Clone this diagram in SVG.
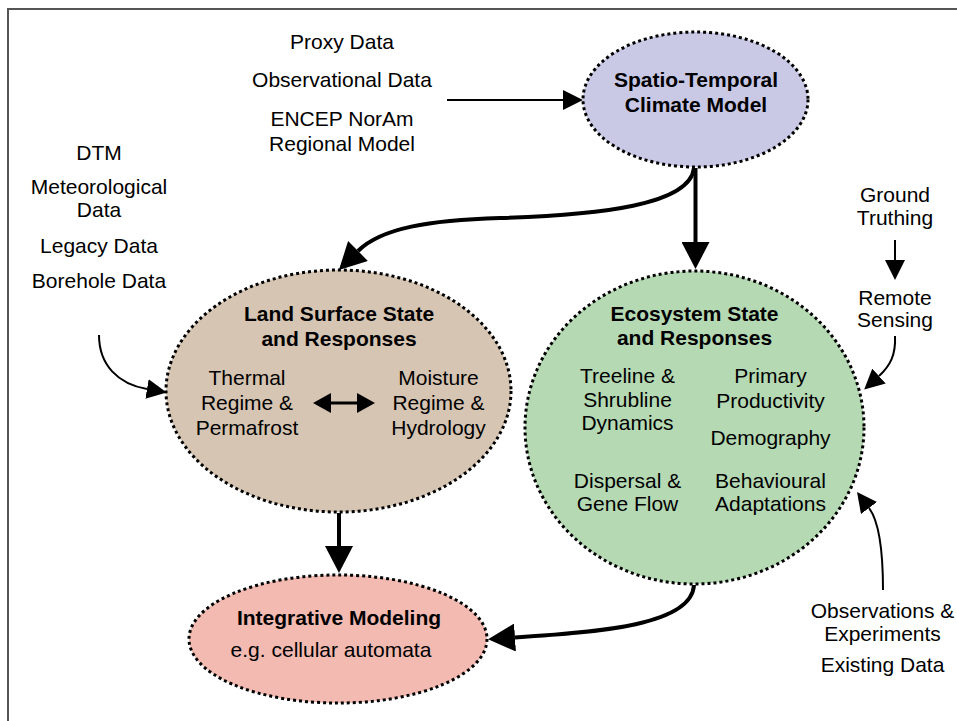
<svg xmlns="http://www.w3.org/2000/svg" width="957" height="721" viewBox="0 0 957 721">
<defs>
<style>
text{font-family:"Liberation Sans",Arial,sans-serif;font-size:21px;fill:#000;text-anchor:middle}
.b{font-weight:bold}
.node{stroke:#000;stroke-width:3;stroke-dasharray:3 3}
.thick{fill:none;stroke:#000;stroke-width:4}
.thin{fill:none;stroke:#000;stroke-width:2}
</style>
<marker id="big" viewBox="0 0 27 28" refX="0" refY="14" markerWidth="27" markerHeight="28" markerUnits="userSpaceOnUse" orient="auto"><path d="M0,0L27,14L0,28z" fill="#000"/></marker>
<marker id="small" viewBox="0 0 20 20" refX="0" refY="10" markerWidth="20" markerHeight="20" markerUnits="userSpaceOnUse" orient="auto"><path d="M0,0L20,10L0,20z" fill="#000"/></marker>
<marker id="dbl" viewBox="0 0 18 20" refX="0" refY="10" markerWidth="18" markerHeight="20" markerUnits="userSpaceOnUse" orient="auto-start-reverse"><path d="M0,0L18,10L0,20z" fill="#000"/></marker>
</defs>
<rect width="957" height="721" fill="#fff"/>
<path d="M8,721V9H957" fill="none" stroke="#555" stroke-width="2"/>

<g id="climate">
<ellipse class="node" cx="695.5" cy="99.5" rx="112.5" ry="67.5" fill="#c9c9e6"/>
<text class="b" x="696" y="87">Spatio-Temporal</text>
<text class="b" x="696" y="112">Climate Model</text>
</g>

<g id="land">
<ellipse class="node" cx="338.5" cy="391" rx="172.5" ry="121" fill="#d6c5b2"/>
<text class="b" x="339" y="321">Land Surface State</text>
<text class="b" x="339" y="346">and Responses</text>
<text x="247" y="385">Thermal</text>
<text x="247" y="410">Regime &amp;</text>
<text x="247" y="435">Permafrost</text>
<text x="438.5" y="385">Moisture</text>
<text x="438.5" y="410">Regime &amp;</text>
<text x="438.5" y="435">Hydrology</text>
</g>

<g id="ecosystem">
<ellipse class="node" cx="694.5" cy="427.5" rx="169.5" ry="156.5" fill="#b5d9b3"/>
<text class="b" x="694.5" y="321">Ecosystem State</text>
<text class="b" x="694.5" y="345">and Responses</text>
<text x="627.5" y="383">Treeline &amp;</text>
<text x="627.5" y="407">Shrubline</text>
<text x="627.5" y="430">Dynamics</text>
<text x="770.5" y="383">Primary</text>
<text x="770.5" y="408">Productivity</text>
<text x="770.5" y="445">Demography</text>
<text x="627.5" y="488">Dispersal &amp;</text>
<text x="627.5" y="511">Gene Flow</text>
<text x="770.5" y="488">Behavioural</text>
<text x="770.5" y="511">Adaptations</text>
</g>

<g id="integrative">
<ellipse class="node" cx="338" cy="639" rx="149" ry="64" fill="#f2bab1"/>
<text class="b" x="339" y="625">Integrative Modeling</text>
<text x="331" y="657">e.g. cellular automata</text>
</g>

<g id="climate-inputs">
<text x="342" y="49">Proxy Data</text>
<text x="342" y="87">Observational Data</text>
<text x="342" y="126">ENCEP NorAm</text>
<text x="342" y="151">Regional Model</text>
</g>

<g id="land-inputs">
<text x="99" y="160">DTM</text>
<text x="99" y="194">Meteorological</text>
<text x="99" y="217">Data</text>
<text x="99" y="253">Legacy Data</text>
<text x="99" y="288">Borehole Data</text>
</g>

<g id="ground-truthing">
<text x="895" y="202">Ground</text>
<text x="895" y="225">Truthing</text>
</g>

<g id="remote-sensing">
<text x="895" y="305">Remote</text>
<text x="895" y="327">Sensing</text>
</g>

<g id="observations">
<text x="882.5" y="618">Observations &amp;</text>
<text x="882.5" y="641">Experiments</text>
<text x="882.5" y="672">Existing Data</text>
</g>

<g id="connectors">
<path class="thick" d="M695.5,168V242" marker-end="url(#big)"/>
<path class="thick" d="M339,513V546" marker-end="url(#big)"/>
<path class="thick" d="M694,168C690,205 600,215 500,218C430,220 381,228 358,251" marker-end="url(#big)"/>
<path class="thick" d="M694,585C692,625 600,632 515,637.5" marker-end="url(#big)"/>
<path class="thin" d="M447,100H563" marker-end="url(#small)"/>
<path class="thin" d="M895,240V260" marker-end="url(#small)"/>
<path class="thin" d="M895,336C896,355 890,366 879,376" marker-end="url(#small)"/>
<path class="thin" d="M99,335C99,365 118,384 147,389" marker-end="url(#small)"/>
<path class="thin" d="M883,590C883,560 881,524 869,508" marker-end="url(#small)"/>
<path d="M331,403H357" fill="none" stroke="#000" stroke-width="3" marker-start="url(#dbl)" marker-end="url(#dbl)"/>
</g>
</svg>
